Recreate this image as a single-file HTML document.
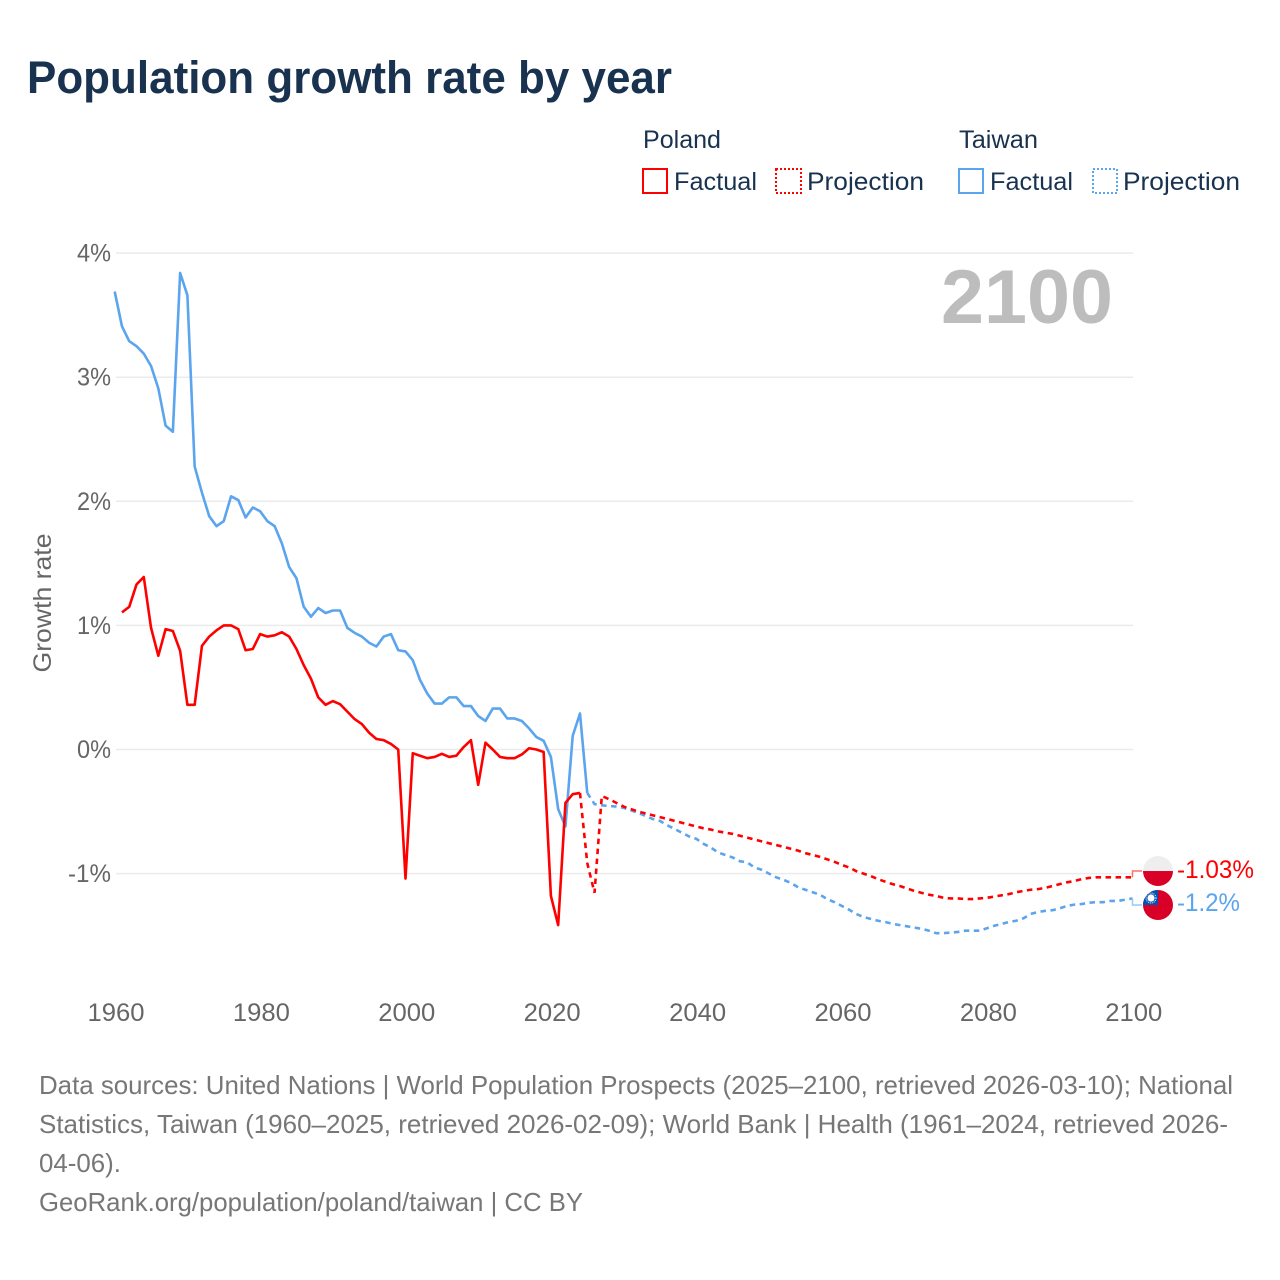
<!DOCTYPE html>
<html lang="en">
<head>
<meta charset="utf-8">
<title>Population growth rate by year</title>
<style>
html,body{margin:0;padding:0;background:#fff;width:1280px;height:1280px;overflow:hidden}
svg{display:block}
text{font-family:"Liberation Sans",sans-serif}
</style>
</head>
<body>
<svg id="chart" xmlns="http://www.w3.org/2000/svg" width="1280" height="1280" viewBox="0 0 1280 1280">
  <defs>
    <clipPath id="clip-pl"><circle id="clip-pl-circle" cx="1158" cy="871" r="15"/></clipPath>
    <clipPath id="clip-tw"><circle id="clip-tw-circle" cx="1158" cy="905" r="15"/></clipPath>
  </defs>
  <text x="27" y="93" font-size="45" font-weight="700" fill="#18324f" textLength="645" lengthAdjust="spacingAndGlyphs">Population growth rate by year</text>

  <g>
    <text x="643" y="148" font-size="25" fill="#18324f" textLength="78" lengthAdjust="spacingAndGlyphs">Poland</text>
    <rect x="643" y="169" width="24" height="24" fill="none" stroke="#ff0000" stroke-width="2"/>
    <text x="674" y="190" font-size="25" fill="#18324f" textLength="83" lengthAdjust="spacingAndGlyphs">Factual</text>
    <rect x="776" y="169" width="25" height="24" fill="none" stroke="#ff0000" stroke-width="2" stroke-dasharray="2 2"/>
    <text x="807" y="190" font-size="25" fill="#18324f" textLength="117" lengthAdjust="spacingAndGlyphs">Projection</text>
    <text x="959" y="148" font-size="25" fill="#18324f" textLength="79" lengthAdjust="spacingAndGlyphs">Taiwan</text>
    <rect x="959" y="169" width="24" height="24" fill="none" stroke="#5ba4ee" stroke-width="2"/>
    <text x="990" y="190" font-size="25" fill="#18324f" textLength="83" lengthAdjust="spacingAndGlyphs">Factual</text>
    <rect x="1093" y="169" width="24" height="24" fill="none" stroke="#5ba4ee" stroke-width="2" stroke-dasharray="2 2"/>
    <text x="1123" y="190" font-size="25" fill="#18324f" textLength="117" lengthAdjust="spacingAndGlyphs">Projection</text>
  </g>

  <g id="grid"></g>
  <g id="y-ticks"></g>
  <g id="x-ticks"></g>
  <text transform="translate(51,603) rotate(-90)" text-anchor="middle" font-size="25" fill="#666666" textLength="139" lengthAdjust="spacingAndGlyphs">Growth rate</text>
  <text x="941" y="323" font-size="76" font-weight="700" fill="#bdbdbd" textLength="172" lengthAdjust="spacingAndGlyphs">2100</text>

  <g id="series"></g>

  <g id="flag-poland" clip-path="url(#clip-pl)">
    <rect id="pl-top" x="1143" y="856" width="30" height="15" fill="#eeeeee"/>
    <rect id="pl-bottom" x="1143" y="871" width="30" height="15" fill="#d80027"/>
  </g>
  <g id="flag-taiwan" clip-path="url(#clip-tw)">
    <rect id="tw-field" x="1143" y="890" width="30" height="30" fill="#d80027"/>
    <rect id="tw-canton" x="1143" y="890" width="15" height="15" fill="#0052b4"/>
    <circle id="tw-sun" cx="1151" cy="898" r="3.6" fill="#ffffff"/>
    <circle id="tw-sun-rays" cx="1151" cy="898" r="5" fill="none" stroke="#ffffff" stroke-width="1" stroke-dasharray="1 1"/>
  </g>

  <g id="value-labels"></g>

  <g font-size="26" fill="#777777">
    <text x="39" y="1094" textLength="1194" lengthAdjust="spacingAndGlyphs">Data sources: United Nations | World Population Prospects (2025–2100, retrieved 2026-03-10); National</text>
    <text x="39" y="1133" textLength="1189" lengthAdjust="spacingAndGlyphs">Statistics, Taiwan (1960–2025, retrieved 2026-02-09); World Bank | Health (1961–2024, retrieved 2026-</text>
    <text x="39" y="1172" textLength="82" lengthAdjust="spacingAndGlyphs">04-06).</text>
    <text x="39" y="1211" textLength="544" lengthAdjust="spacingAndGlyphs">GeoRank.org/population/poland/taiwan | CC BY</text>
  </g>
</svg>
<script>
const xTickYears = [1960, 1980, 2000, 2020, 2040, 2060, 2080, 2100];
const yTickValues = [4, 3, 2, 1, 0, -1];

const taiwanFactualStart = 1960;
const taiwanFactual = [3.69,3.41,3.29,3.25,3.19,3.09,2.91,2.61,2.56,3.84,3.66,2.28,2.07,1.88,1.80,1.84,2.04,2.01,1.87,1.95,1.92,1.84,1.80,1.66,1.47,1.38,1.15,1.07,1.14,1.10,1.12,1.12,0.98,0.94,0.91,0.86,0.83,0.91,0.93,0.80,0.79,0.72,0.56,0.45,0.37,0.37,0.42,0.42,0.35,0.35,0.27,0.23,0.33,0.33,0.25,0.25,0.23,0.17,0.10,0.07,-0.06,-0.48,-0.62,0.11,0.29,-0.35];

const taiwanProjectionStart = 2025;
const taiwanProjection = [-0.35,-0.44,-0.45,-0.455,-0.46,-0.47,-0.49,-0.51,-0.535,-0.56,-0.575,-0.61,-0.64,-0.67,-0.70,-0.72,-0.76,-0.79,-0.83,-0.85,-0.87,-0.90,-0.91,-0.95,-0.97,-1.00,-1.03,-1.05,-1.075,-1.11,-1.13,-1.15,-1.17,-1.205,-1.23,-1.26,-1.29,-1.325,-1.35,-1.365,-1.38,-1.39,-1.405,-1.415,-1.425,-1.435,-1.445,-1.46,-1.48,-1.48,-1.475,-1.47,-1.46,-1.46,-1.46,-1.44,-1.42,-1.405,-1.39,-1.38,-1.36,-1.325,-1.31,-1.30,-1.295,-1.28,-1.26,-1.25,-1.245,-1.235,-1.23,-1.23,-1.22,-1.22,-1.21,-1.2];

const polandFactualStart = 1961;
const polandFactual = [1.105,1.15,1.33,1.39,0.98,0.755,0.97,0.955,0.795,0.36,0.36,0.835,0.91,0.96,1.00,1.00,0.97,0.80,0.81,0.93,0.91,0.92,0.945,0.91,0.81,0.68,0.57,0.42,0.36,0.39,0.365,0.305,0.245,0.205,0.135,0.085,0.075,0.045,0,-1.04,-0.03,-0.05,-0.07,-0.06,-0.035,-0.06,-0.05,0.02,0.075,-0.285,0.055,0,-0.06,-0.07,-0.07,-0.04,0.01,0,-0.02,-1.18,-1.415,-0.43,-0.36,-0.35];

const polandProjectionStart = 2024;
const polandProjection = [-0.35,-0.915,-1.155,-0.375,-0.40,-0.43,-0.46,-0.48,-0.50,-0.515,-0.53,-0.545,-0.56,-0.575,-0.59,-0.605,-0.62,-0.635,-0.645,-0.66,-0.67,-0.68,-0.695,-0.71,-0.725,-0.74,-0.755,-0.77,-0.785,-0.80,-0.815,-0.835,-0.85,-0.865,-0.885,-0.905,-0.93,-0.95,-0.98,-1.00,-1.02,-1.045,-1.065,-1.085,-1.10,-1.12,-1.14,-1.155,-1.17,-1.18,-1.195,-1.20,-1.20,-1.205,-1.205,-1.20,-1.195,-1.185,-1.175,-1.165,-1.15,-1.14,-1.13,-1.125,-1.115,-1.10,-1.085,-1.07,-1.06,-1.045,-1.035,-1.03,-1.03,-1.03,-1.03,-1.03,-1.03];

const NS = 'http://www.w3.org/2000/svg';
const RED = '#ff0000';
const BLUE = '#5ba4ee';

function xScale(year) { return 114.7 + (year - 1960) * 7.27; }
function yScale(value) { return 749.5 - value * 124.1; }
function svgEl(tag) { return document.createElementNS(NS, tag); }
function linePoints(start, values) {
  return values.map(function (v, i) { return xScale(start + i).toFixed(2) + ',' + yScale(v).toFixed(2); }).join(' ');
}
function formatPct(v) { return String(Math.round(v * 100) / 100) + '%'; }

const grid = document.getElementById('grid');
const yTickGroup = document.getElementById('y-ticks');
yTickValues.forEach(function (v) {
  const ln = svgEl('line');
  
  
  ln.setAttribute('x1', 116);
  ln.setAttribute('x2', 1133);
  ln.setAttribute('y1', yScale(v));
  ln.setAttribute('y2', yScale(v));
  ln.setAttribute('stroke', '#ebebeb');
  ln.setAttribute('stroke-width', '1.5');
  grid.appendChild(ln);
  const t = svgEl('text');
  
  
  t.setAttribute('x', v < 0 ? 68 : 77);
  t.setAttribute('y', yScale(v) + 8.5);
  t.setAttribute('font-size', '25');
  t.setAttribute('fill', '#666666');
  t.setAttribute('textLength', v < 0 ? '43' : '34');
  t.setAttribute('lengthAdjust', 'spacingAndGlyphs');
  t.textContent = v + '%';
  yTickGroup.appendChild(t);
});

const xTickGroup = document.getElementById('x-ticks');
xTickYears.forEach(function (y) {
  const t = svgEl('text');
  
  
  t.setAttribute('x', xScale(y) + 1.3);
  t.setAttribute('y', 1021);
  t.setAttribute('text-anchor', 'middle');
  t.setAttribute('font-size', '25');
  t.setAttribute('fill', '#666666');
  t.setAttribute('textLength', '57');
  t.setAttribute('lengthAdjust', 'spacingAndGlyphs');
  t.textContent = String(y);
  xTickGroup.appendChild(t);
});

const seriesGroup = document.getElementById('series');

const tf = svgEl('polyline');


tf.setAttribute('points', linePoints(taiwanFactualStart, taiwanFactual));
tf.setAttribute('fill', 'none');
tf.setAttribute('stroke', BLUE);
tf.setAttribute('stroke-width', '2.6');
tf.setAttribute('stroke-linejoin', 'round');
seriesGroup.appendChild(tf);

const tp = svgEl('polyline');


tp.setAttribute('points', linePoints(taiwanProjectionStart, taiwanProjection));
tp.setAttribute('fill', 'none');
tp.setAttribute('stroke', BLUE);
tp.setAttribute('stroke-width', '2.6');
tp.setAttribute('stroke-dasharray', '5.5 4.5');
seriesGroup.appendChild(tp);

const pf = svgEl('polyline');


pf.setAttribute('points', linePoints(polandFactualStart, polandFactual));
pf.setAttribute('fill', 'none');
pf.setAttribute('stroke', RED);
pf.setAttribute('stroke-width', '2.6');
pf.setAttribute('stroke-linejoin', 'round');
seriesGroup.appendChild(pf);

const pp = svgEl('polyline');


pp.setAttribute('points', linePoints(polandProjectionStart, polandProjection));
pp.setAttribute('fill', 'none');
pp.setAttribute('stroke', RED);
pp.setAttribute('stroke-width', '2.6');
pp.setAttribute('stroke-dasharray', '5.5 4.5');
seriesGroup.appendChild(pp);

const polandEnd = polandProjection[polandProjection.length - 1];
const taiwanEnd = taiwanProjection[taiwanProjection.length - 1];
const polandEndY = yScale(polandEnd);
const taiwanEndY = yScale(taiwanEnd);
const polandLabelY = polandEndY - 6.3;
const taiwanLabelY = taiwanEndY + 6.6;
const endX = xScale(2100);

const pc = svgEl('polyline');


pc.setAttribute('points', endX + ',' + polandEndY + ' ' + endX + ',' + polandLabelY + ' 1142,' + polandLabelY);
pc.setAttribute('fill', 'none');
pc.setAttribute('stroke', '#ff7070');
pc.setAttribute('stroke-width', '1.5');
seriesGroup.appendChild(pc);

const tc = svgEl('polyline');


tc.setAttribute('points', endX + ',' + taiwanEndY + ' ' + endX + ',' + taiwanLabelY + ' 1142,' + taiwanLabelY);
tc.setAttribute('fill', 'none');
tc.setAttribute('stroke', '#9cc8f4');
tc.setAttribute('stroke-width', '1.5');
seriesGroup.appendChild(tc);

function moveFlag(groupId, centerY, clipId) {
  document.getElementById(clipId).setAttribute('cy', centerY);
  document.getElementById(groupId).setAttribute('data-center-y', centerY);
}
moveFlag('flag-poland', polandLabelY, 'clip-pl-circle');
moveFlag('flag-taiwan', taiwanLabelY, 'clip-tw-circle');
document.getElementById('pl-top').setAttribute('y', polandLabelY - 15);
document.getElementById('pl-bottom').setAttribute('y', polandLabelY);
document.getElementById('tw-field').setAttribute('y', taiwanLabelY - 15);
document.getElementById('tw-canton').setAttribute('y', taiwanLabelY - 15);
document.getElementById('tw-sun').setAttribute('cy', taiwanLabelY - 7);
document.getElementById('tw-sun-rays').setAttribute('cy', taiwanLabelY - 7);

const labelGroup = document.getElementById('value-labels');

const pl = svgEl('text');


pl.setAttribute('x', 1177);
pl.setAttribute('y', polandLabelY + 7);
pl.setAttribute('font-size', '25');
pl.setAttribute('fill', RED);
pl.setAttribute('textLength', '77');
pl.setAttribute('lengthAdjust', 'spacingAndGlyphs');
pl.textContent = formatPct(polandEnd);
labelGroup.appendChild(pl);

const tl = svgEl('text');


tl.setAttribute('x', 1177);
tl.setAttribute('y', taiwanLabelY + 6);
tl.setAttribute('font-size', '25');
tl.setAttribute('fill', BLUE);
tl.setAttribute('textLength', '63');
tl.setAttribute('lengthAdjust', 'spacingAndGlyphs');
tl.textContent = formatPct(taiwanEnd);
labelGroup.appendChild(tl);
</script>
</body>
</html>
